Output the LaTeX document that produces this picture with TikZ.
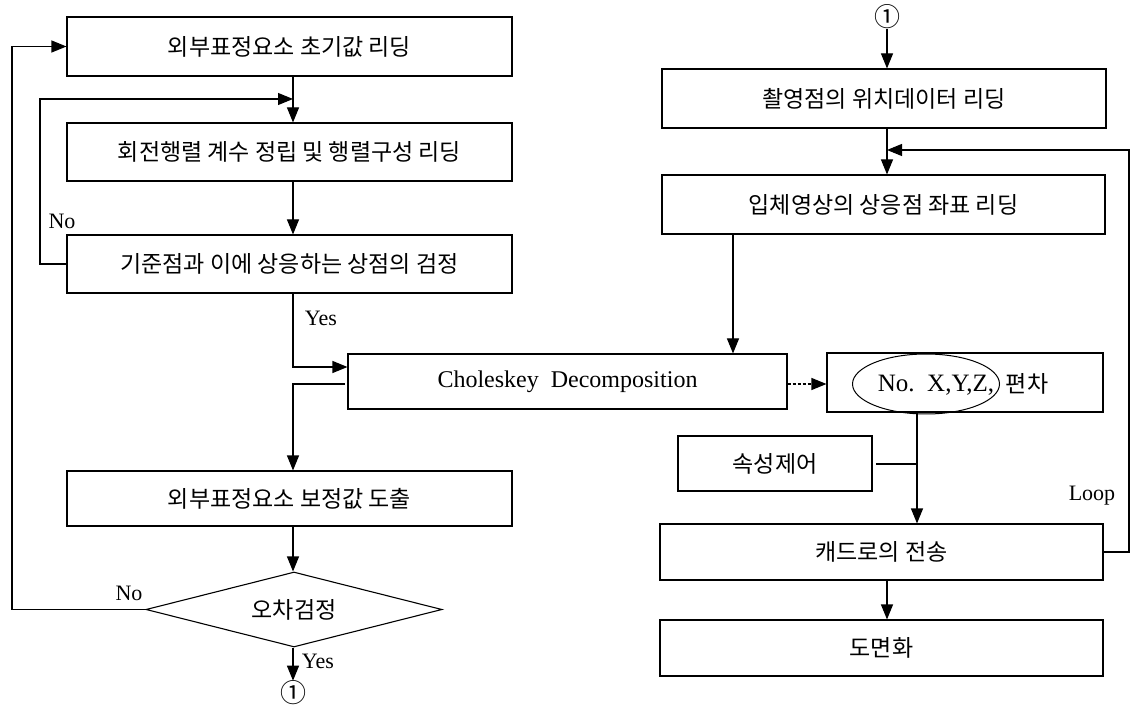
\documentclass[tikz,border=0pt]{standalone}
\usepackage{fontspec}
\setmainfont{Liberation Serif}
\newfontfamily\kr{Noto Sans CJK KR}
\usetikzlibrary{shapes.geometric,arrows.meta}
\begin{document}
\begin{tikzpicture}[x=1pt,y=-1pt,
  box/.style={draw,line width=1.1pt,minimum height=58pt,inner sep=0pt,font=\kr\fontsize{23}{27}\selectfont},
  arr/.style={line width=1.1pt,-{Triangle[length=15pt,width=12pt]}},
  ln/.style={line width=1.1pt},
  lat/.style={font=\fontsize{24}{28}\selectfont},
  krt/.style={font=\kr\fontsize{23}{27}\selectfont,inner sep=0pt},
  circ/.style={font=\kr\fontsize{26}{28}\selectfont,inner sep=0pt},
  lab/.style={font=\fontsize{22}{26}\selectfont,inner sep=0pt}]
\useasboundingbox (0,0) rectangle (1130,708);
% left column
\node[box,minimum width=445pt,minimum height=59pt] (b1) at (289.5,46.5) {외부표정요소 초기값 리딩};
\node[box,minimum width=445pt] (b2) at (289.5,152) {회전행렬 계수 정립 및 행렬구성 리딩};
\node[box,minimum width=445pt] (b3) at (289.5,264) {기준점과 이에 상응하는 상점의 검정};
\node[box,lat,minimum width=439pt,minimum height=55pt] (chol) at (567.5,381.5) {Choleskey\ \ Decomposition};
\node[box,minimum width=445pt,minimum height=55pt] (b4) at (289.5,498.5) {외부표정요소 보정값 도출};
\node[draw,diamond,aspect=4,line width=1.1pt,minimum width=296pt,minimum height=75pt,inner sep=0pt,font=\kr\fontsize{23}{27}\selectfont] (dia) at (294,609.5) {오차검정};
\node[circ] (c2) at (293,693) {①};
% right column
\node[circ] (c1) at (887,17) {①};
\node[box,minimum width=444pt,minimum height=59pt] (r1) at (884,98.5) {촬영점의 위치데이터 리딩};
\node[box,minimum width=443pt,minimum height=59pt] (r2) at (883.5,204.5) {입체영상의 상응점 좌표 리딩};
\node[box,minimum width=276pt,minimum height=59pt] (r3) at (965,382.5) {};
\node[draw,ellipse,line width=1pt,minimum width=147pt,minimum height=60pt,inner sep=0pt] (e1) at (926,384) {};
\node[lat,font=\fontsize{25}{29}\selectfont,inner sep=0pt] (et) at (936,385) {No.\ \ X,Y,Z,};
\node[krt] (pc) at (1027,384) {편차};
\node[box,minimum width=194pt,minimum height=55pt] (r4) at (775,463.5) {속성제어};
\node[box,minimum width=443pt,minimum height=56pt] (r5) at (881.5,552) {캐드로의 전송};
\node[box,minimum width=443pt,minimum height=56pt] (r6) at (881.5,648) {도면화};
% labels
\node[lab] (no1) at (62,221) {No};
\node[lab] (yes1) at (321,318) {Yes};
\node[lab] (no2) at (129,593) {No};
\node[lab] (yes2) at (318,661) {Yes};
\node[lab] (loop) at (1092,496) {Loop};
% helper coordinates
\coordinate (vx) at (293,0);
\coordinate (ix) at (40,0);
\coordinate (ox) at (12,0);
\coordinate (j1) at (293,99);
\coordinate (y1) at (0,367);
\coordinate (s1) at (345,384);
\coordinate (rx) at (887,0);
\coordinate (cx) at (733,0);
\coordinate (dx) at (917,0);
\coordinate (s2) at (876,464);
\coordinate (lpx) at (1129,0);
\coordinate (j2) at (887,150);
% connectors left
\draw[arr] (b1.south -| vx) -- (b2.north -| vx);
\draw[arr] (b2.south -| vx) -- (b3.north -| vx);
\draw[arr] (b3.west) -- (b3.west -| ix) -- (ix |- j1) -- (j1);
\draw[arr] (b3.south -| vx) |- (chol.west |- y1);
\draw[arr] (s1) -| (b4.north -| vx);
\draw[arr] (b4.south -| vx) -- (dia.north -| vx);
\draw[arr] (dia.south -| vx) -- (c2.north);
\draw[arr] (dia.west) -- (dia.west -| ox) -- (ox |- b1.west) -- (b1.west);
% connectors right
\draw[arr] (c1.south) -- (r1.north -| rx);
\draw[arr] (r1.south -| rx) -- (r2.north -| rx);
\draw[arr] (r2.south -| cx) -- (chol.north -| cx);
\draw[arr,dash pattern=on 3pt off 2pt] (chol.east |- e1) -- (r3.west |- e1);
\draw[arr] (r3.south -| dx) -- (r5.north -| dx);
\draw[ln] (s2) -- (s2 -| dx);
\draw[arr] (r5.south -| rx) -- (r6.north -| rx);
\draw[arr] (r5.east) -- (r5.east -| lpx) -- (lpx |- j2) -- (j2);
\end{tikzpicture}
\end{document}
